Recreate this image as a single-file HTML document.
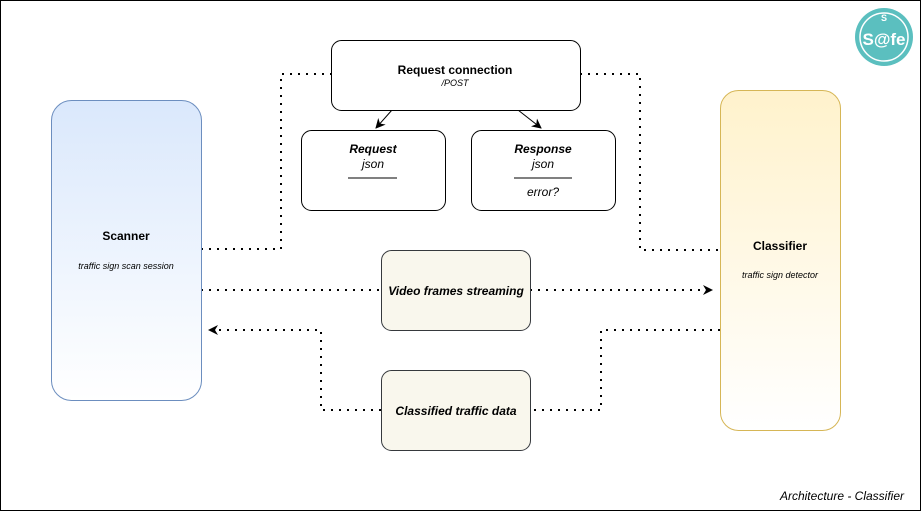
<!DOCTYPE html>
<html><head><meta charset="utf-8"><style>body{margin:0;background:#fff}svg{display:block;font-family:"Liberation Sans",sans-serif}</style></head><body>
<svg width="921" height="511" viewBox="0 0 921 511" xmlns="http://www.w3.org/2000/svg">
<defs>
<linearGradient id="gb" x1="0" y1="0" x2="0" y2="1"><stop offset="0" stop-color="#dae8fc"/><stop offset="1" stop-color="#fff"/></linearGradient>
<linearGradient id="gy" x1="0" y1="0" x2="0" y2="1"><stop offset="0" stop-color="#fff2cc"/><stop offset="1" stop-color="#fff"/></linearGradient>
<marker id="a" viewBox="0 0 10 10" refX="9" refY="5" markerWidth="10" markerHeight="10" markerUnits="userSpaceOnUse" orient="auto"><path d="M0,0 L10,5 L0,10 L3,5 z" fill="#000"/></marker>
</defs>
<rect x="0.5" y="0.5" width="920" height="510" fill="#fff" stroke="#000"/>
<g fill="none" stroke="#000" stroke-width="2" stroke-dasharray="2 6">
<path d="M201,249 H281 V74 H331"/>
<path d="M580,74 H640 V250 H720"/>
<path d="M201,290 H381"/>
<path d="M530,290 H712" marker-end="url(#a)"/>
<path d="M720,330 H601 V410 H530"/>
<path d="M381,410 H321 V330 H209" marker-end="url(#a)"/>
</g>
<path d="M392,110 L376,128" stroke="#000" marker-end="url(#a)"/>
<path d="M518,110 L541,128" stroke="#000" marker-end="url(#a)"/>
<rect x="51.5" y="100.5" width="150" height="300" rx="20" fill="url(#gb)" stroke="#6c8ebf"/>
<rect x="720.5" y="90.5" width="120" height="340" rx="18" fill="url(#gy)" stroke="#d6b656"/>
<rect x="331.5" y="40.5" width="249" height="70" rx="10" fill="#fff" stroke="#000"/>
<rect x="301.5" y="130.5" width="144" height="80" rx="10" fill="#fff" stroke="#000"/>
<rect x="471.5" y="130.5" width="144" height="80" rx="10" fill="#fff" stroke="#000"/>
<rect x="381.5" y="250.5" width="149" height="80" rx="10" fill="#f9f7ed" stroke="#36393d"/>
<rect x="381.5" y="370.5" width="149" height="80" rx="10" fill="#f9f7ed" stroke="#36393d"/>
<line x1="348" y1="178" x2="397" y2="178" stroke="#000"/>
<line x1="514" y1="178" x2="572" y2="178" stroke="#000"/>
<g text-anchor="middle" font-size="12">
<text x="455" y="74" font-weight="bold">Request connection</text>
<text x="455" y="86" font-size="9" font-style="italic">/POST</text>
<text x="373" y="153" font-weight="bold" font-style="italic">Request</text>
<text x="373" y="168" font-style="italic">json</text>
<text x="543" y="153" font-weight="bold" font-style="italic">Response</text>
<text x="543" y="168" font-style="italic">json</text>
<text x="543" y="196" font-style="italic">error?</text>
<text x="126" y="240" font-weight="bold">Scanner</text>
<text x="126" y="269" font-size="9" font-style="italic">traffic sign scan session</text>
<text x="780" y="250" font-weight="bold">Classifier</text>
<text x="780" y="278" font-size="9" font-style="italic">traffic sign detector</text>
<text x="456" y="295" font-weight="bold" font-style="italic">Video frames streaming</text>
<text x="456" y="415" font-weight="bold" font-style="italic">Classified traffic data</text>
</g>
<text x="904" y="500" text-anchor="end" font-size="12" font-style="italic">Architecture - Classifier</text>
<circle cx="884" cy="37" r="29" fill="#5bbfbf"/>
<circle cx="884" cy="37" r="24" fill="none" stroke="#fff" stroke-width="1.5"/>
<text x="884" y="21" text-anchor="middle" font-size="9" font-weight="bold" fill="#fff">S</text>
<text x="884" y="45" text-anchor="middle" font-size="17" font-weight="bold" fill="#fff">S@fe</text>
</svg>
</body></html>
